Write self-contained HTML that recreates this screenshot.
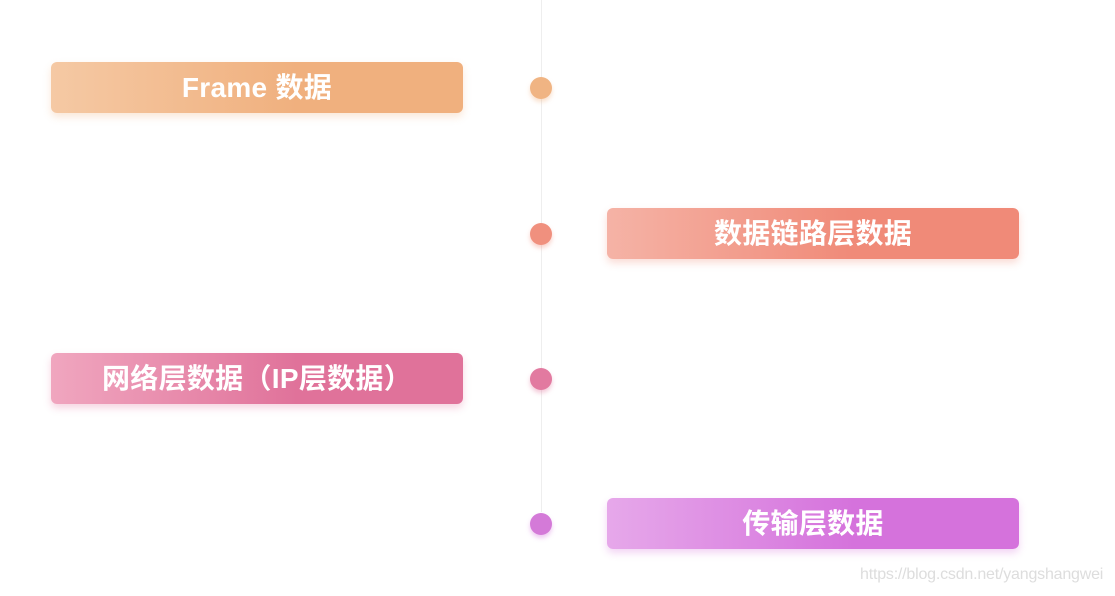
<!DOCTYPE html>
<html><head><meta charset="utf-8"><style>
body{margin:0;width:1115px;height:596px;background:#fff;position:relative;overflow:hidden;font-family:"Liberation Sans","Noto Sans CJK SC",sans-serif}
.line{position:absolute;left:541px;top:0;width:1px;height:512px;background:#eee}
.b{position:absolute;width:412px;height:51px;border-radius:6px;color:#fff;font-weight:bold;font-size:28px;line-height:51px;text-align:center;letter-spacing:0.3px}
.d{position:absolute;width:22px;height:22px;border-radius:50%;left:530px}
.w{position:absolute;left:860px;top:566px;font-size:16px;color:#ddd;letter-spacing:-0.2px}
</style></head><body>
<div class="line"></div>
<div class="b" style="left:51px;top:62px;background:linear-gradient(90deg,#f5c9a4,#f0b07e 60%);box-shadow:0 4px 8px rgba(240,176,126,.3)">Frame 数据</div>
<div class="d" style="top:77px;background:#f0b483;box-shadow:0 3px 5px rgba(240,176,126,.4)"></div>
<div class="b" style="left:607px;top:208px;background:linear-gradient(90deg,#f5b3a6,#f08a78 60%);box-shadow:0 4px 8px rgba(240,138,120,.3)">数据链路层数据</div>
<div class="d" style="top:223px;background:#f0907e;box-shadow:0 3px 5px rgba(240,138,120,.4)"></div>
<div class="b" style="left:51px;top:353px;background:linear-gradient(90deg,#f0a6bf,#e0729a 60%);box-shadow:0 4px 8px rgba(224,114,154,.3)">网络层数据（IP层数据）</div>
<div class="d" style="top:368px;background:#e27aa0;box-shadow:0 3px 5px rgba(224,114,154,.4)"></div>
<div class="b" style="left:607px;top:498px;background:linear-gradient(90deg,#e6a8ea,#d572dc 60%);box-shadow:0 4px 8px rgba(213,114,220,.3)">传输层数据</div>
<div class="d" style="top:513px;background:#d47ad8;box-shadow:0 3px 5px rgba(213,114,220,.4)"></div>
<div class="w">https://blog.csdn.net/yangshangwei</div>
</body></html>
